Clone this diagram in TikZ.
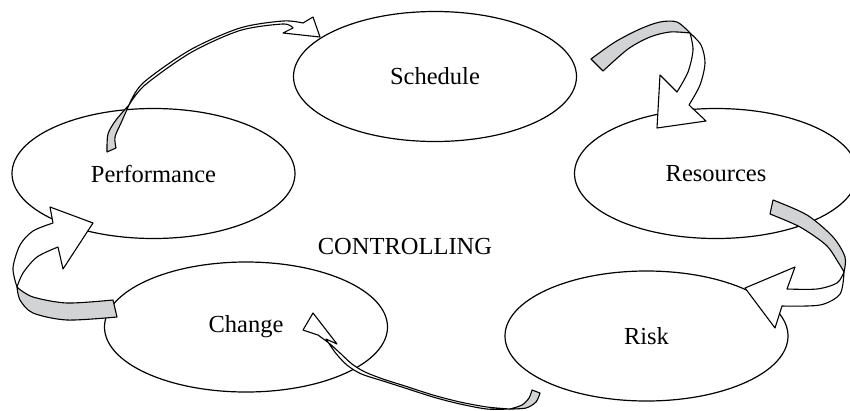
\documentclass[tikz,border=0pt]{standalone}
\usepackage{fontspec}
\setmainfont{Liberation Serif}
\usetikzlibrary{shapes.geometric}
\definecolor{ribbongray}{RGB}{209,211,212}

\begin{document}
\begin{tikzpicture}[x=1pt, y=-1pt,
    stage/.style={ellipse, draw, line width=1.2pt, minimum width=283pt, minimum height=130pt, inner sep=0pt, font=\fontsize{24.5}{29}\selectfont},
    front/.style={draw, fill=white, line width=1.1pt, line join=round},
    back/.style={draw, fill=ribbongray, line width=1.1pt, line join=round}
  ]
    \useasboundingbox (0,0) rectangle (850,410);

    % Stages
    \node[stage] (schedule) at (435,76.5) {Schedule};
    \node[stage] (performance) at (153.5,173.5) {Performance};
    \node[stage] (resources) at (716,173.5) {Resources};
    \node[stage] (change) at (246,327) {Change};
    \node[stage] (risk) at (646.5,336) {Risk};
    \node[font=\fontsize{24.5}{29}\selectfont] (controlling) at (405,247) {CONTROLLING};

    % Performance -> Schedule
    \filldraw[back] (107,152) -- plot[smooth] coordinates {(107,152) (108,134) (116,120) (129,105)}
      -- plot[smooth] coordinates {(129,105) (121,123) (115,137) (116,148)} -- cycle;
    \filldraw[front] (129,105) -- plot[smooth] coordinates {(129,105) (143,83) (190,50) (240,28) (283,21) (303,23)}
      -- (313,17) -- (320,37) -- (283,33)
      -- plot[smooth] coordinates {(293,28) (283,24) (240,30.5) (191,52.5) (145,85) (129,105)} -- cycle;

    % Schedule -> Resources
    \filldraw[back] (591,59) -- plot[smooth] coordinates {(591,59) (615,42) (640,29) (660,22) (677,22) (690,33)}
      -- plot[smooth] coordinates {(690,33) (670,32) (650,37) (628,49) (603,71)} -- cycle;
    \filldraw[front] (690,33) -- plot[smooth] coordinates {(690,33) (701,45) (705,63) (700,85) (689,105)}
      -- (706,121) -- (657,128) -- (660,75)
      -- plot[smooth] coordinates {(677,92) (688,72) (693,50) (690,33)} -- cycle;

    % Resources -> Risk
    \filldraw[back] (773,200) -- plot[smooth] coordinates {(773,200) (807,215) (833,237) (845,257) (844,272)}
      -- plot[smooth] coordinates {(844,272) (838,262) (826,245) (800,227) (770,214)} -- cycle;
    \filldraw[front] (844,272) -- plot[smooth] coordinates {(844,272) (837,283) (817,289) (787,289)}
      -- (795,267) -- (745,288) -- (775,328)
      -- plot[smooth] coordinates {(782,306) (820,305) (840,294) (844,272)} -- cycle;

    % Risk -> Change
    \filldraw[back] (532,390) -- (540,393) -- plot[smooth] coordinates {(540,393) (536,402) (526,408) (510,409)}
      -- plot[smooth] coordinates {(510,409) (522,405) (529,398) (532,390)} -- cycle;
    \filldraw[front] (510,409) -- plot[smooth] coordinates {(510,409) (487,407) (460,402) (433,395) (405,386) (383,379) (365,372) (352,364) (340,353) (330,344) (318,335)}
      -- (303,330) -- (313,313) -- (337,344)
      -- plot[smooth] coordinates {(326,339) (336,353.5) (347.5,365.5) (361.5,374) (383,381) (405,388) (433,397) (460,404) (487,409) (510,409)} -- cycle;

    % Change -> Performance
    \filldraw[back] (113,300) -- plot[smooth] coordinates {(113,300) (67,303) (33,297) (18,288)}
      -- plot[smooth] coordinates {(17,287) (20,300) (33,313) (67,320) (117,317)} -- cycle;
    \filldraw[front] (17,287) -- plot[smooth] coordinates {(17,287) (13,268) (20,245) (33,231) (53,223)}
      -- (50,207) -- (93,223) -- (63,269)
      -- plot[smooth] coordinates {(58,247) (37,257) (23,273) (17,287)} -- cycle;
\end{tikzpicture}
\end{document}
